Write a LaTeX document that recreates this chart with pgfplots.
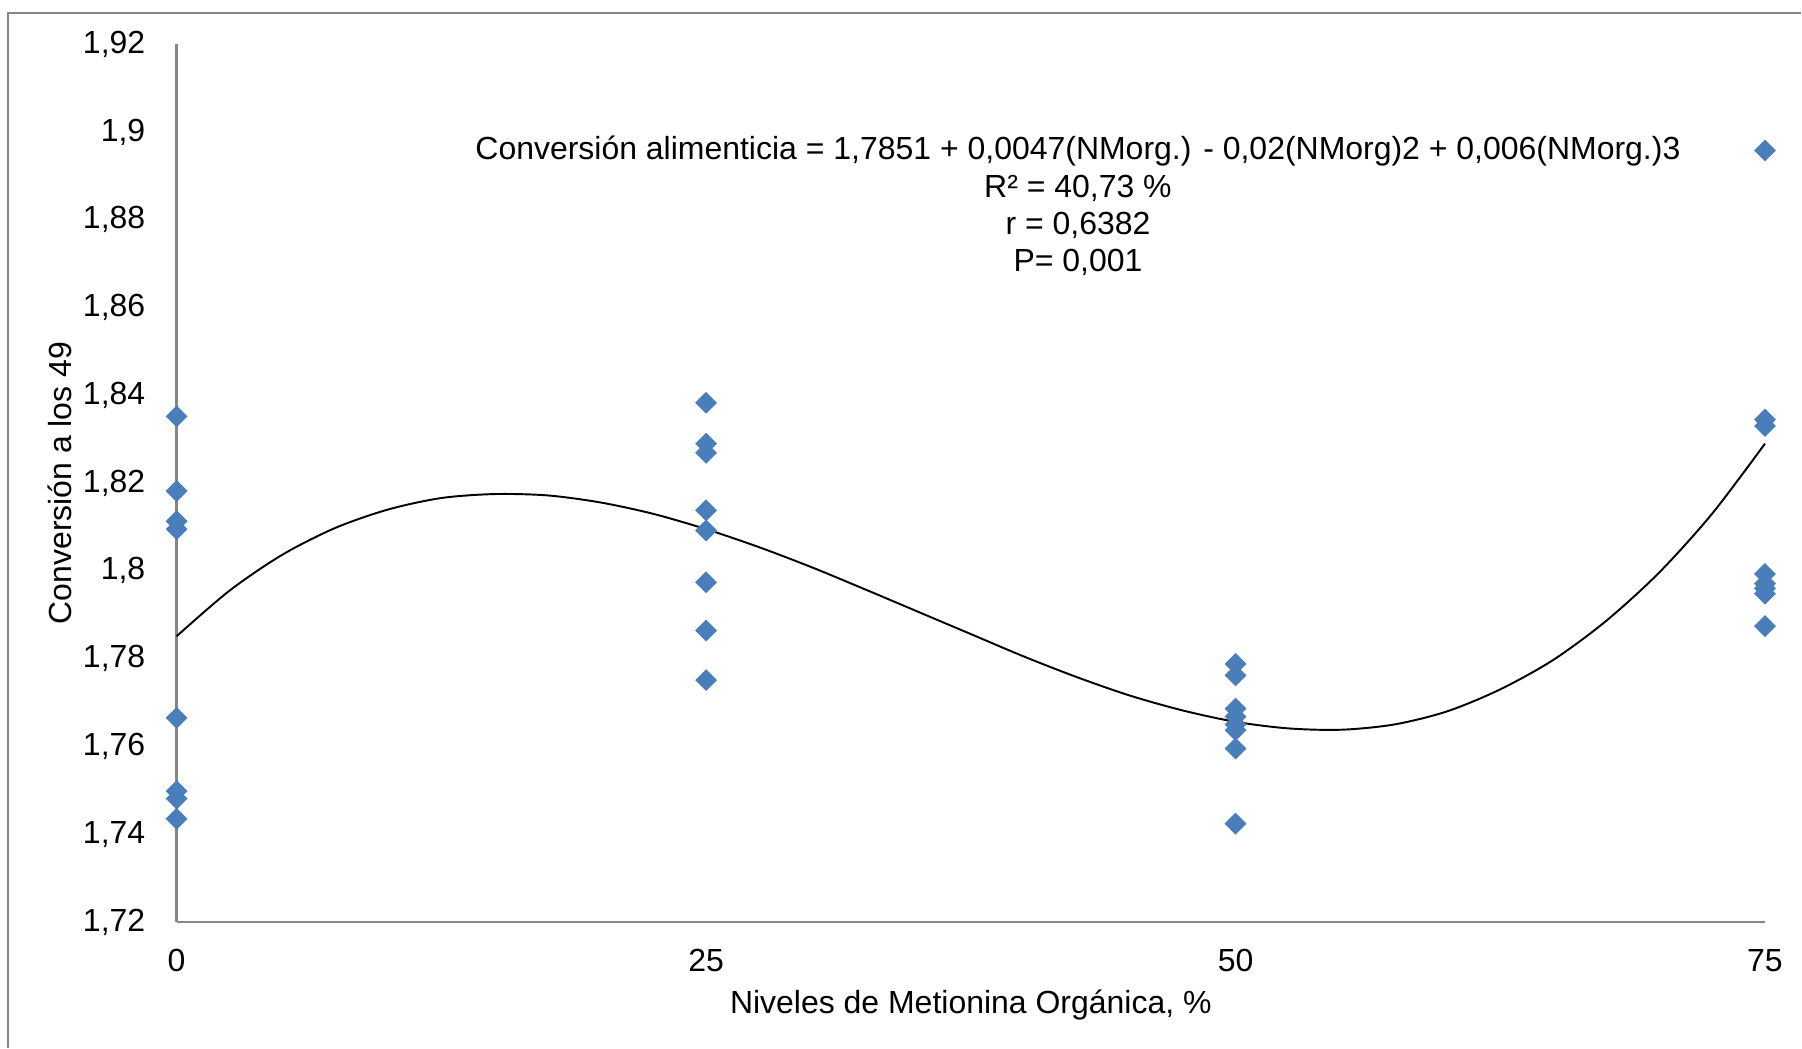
\documentclass[border=0pt]{standalone}
\usepackage{fontspec}
\setmainfont{Liberation Sans}
\usepackage{pgfplots}
\pgfplotsset{compat=1.18}
\usetikzlibrary{calc}
\definecolor{pto}{RGB}{74,126,187}
\definecolor{eje}{RGB}{134,134,134}
\newcommand{\fnt}{\fontsize{9.1}{11}\selectfont}

\begin{document}
\begin{tikzpicture}
\begin{axis}[
    scale only axis,
    width=15.89cm, height=8.78cm,
    xmin=0, xmax=75, ymin=1.72, ymax=1.92,
    xtick={0,25,50,75},
    ytick={1.72,1.74,1.76,1.78,1.8,1.82,1.84,1.86,1.88,1.9,1.92},
    axis lines*=left,
    axis line style={eje, line width=0.7pt},
    major tick length=0pt,
    tick label style={font=\fnt},
    yticklabel style={xshift=-0.19cm},
    xticklabel style={yshift=-0.15cm},
    /pgf/number format/assume math mode=true,
    /pgf/number format/use comma,
    /pgf/number format/fixed,
    /pgf/number format/precision=2,
    xlabel={Niveles de Metionina Orgánica, \%},
    ylabel={Conversión a los 49},
    label style={font=\fnt},
    xlabel style={at={(axis description cs:0.5,-0.0945)}, anchor=center},
    ylabel style={at={(axis description cs:-0.0734,0.5)}, anchor=center},
    clip=false,
]
\addplot[only marks, color=pto, mark=square*, mark size=2pt,
    mark options={rotate=45, fill=pto, draw=pto}] coordinates {
    (0,1.8352) (0,1.8182) (0,1.8113) (0,1.8095)
    (0,1.7665) (0,1.7498) (0,1.7481) (0,1.7435)
    (25,1.8383) (25,1.8290) (25,1.8269) (25,1.8138)
    (25,1.8092) (25,1.7974) (25,1.7864) (25,1.7751)
    (50,1.7788) (50,1.7762) (50,1.7686) (50,1.7668)
    (50,1.7650) (50,1.7637) (50,1.7595) (50,1.7424)
    (75,1.8958) (75,1.8345) (75,1.8330) (75,1.7993)
    (75,1.7971) (75,1.7960) (75,1.7948) (75,1.7874)
};
\addplot[black, line width=0.55pt, smooth] coordinates {
    (0,1.7851) (2.5,1.7955) (5,1.8037) (7.5,1.8098) (10,1.8140)
    (12.5,1.8166) (15,1.8175) (17.5,1.8172) (20,1.8156) (22.5,1.8130)
    (25,1.8095) (27.5,1.8054) (30,1.8008) (32.5,1.7958) (35,1.7907)
    (37.5,1.7856) (40,1.7805) (42.5,1.7758) (45,1.7716) (47.5,1.7682)
    (50,1.7656) (52.5,1.7641) (55,1.7638) (57.5,1.7650) (60,1.7680)
    (62.5,1.7730) (65,1.7797) (67.5,1.7886) (70,1.7996) (72.5,1.8130)
    (75,1.8290)
};
\node[font=\fnt] at (axis cs:42.56,1.8956)
    {Conversión alimenticia = 1,7851 + 0,0047(NMorg.) - 0,02(NMorg)2 + 0,006(NMorg.)3};
\node[font=\fnt] at (axis cs:42.56,1.8872) {R² = 40,73 \%};
\node[font=\fnt] at (axis cs:42.56,1.8788) {r = 0,6382};
\node[font=\fnt] at (axis cs:42.56,1.8703) {P= 0,001};
\coordinate (O) at (rel axis cs:0,0);
\coordinate (T) at (rel axis cs:1,1);
\end{axis}
\pgfresetboundingbox
\path ($(O)+(-1.767cm,-1.257cm)$) rectangle ($(T)+(0.36cm,0.443cm)$);
\draw[eje, line width=0.6pt] ($(O)+(-1.687cm,-1.257cm)$) |- ($(T)+(0.36cm,0.31cm)$);
\end{tikzpicture}
\end{document}
